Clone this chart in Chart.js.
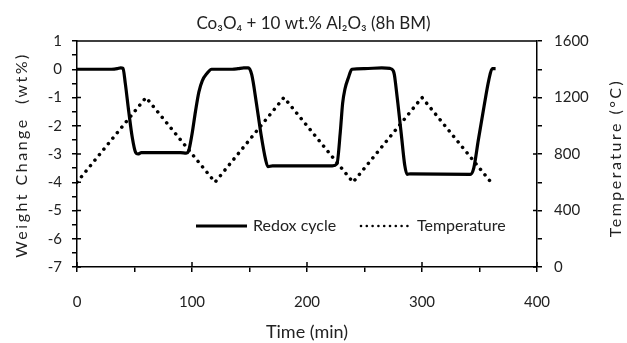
<!DOCTYPE html>
<html>
<head>
<meta charset="utf-8">
<script src="https://cdn.jsdelivr.net/npm/chart.js@4"></script>
<style>
  body { margin: 0; background: #fff; }
  #wrap { width: 627px; height: 343px; }
</style>
</head>
<body>
<div id="wrap"><canvas id="redoxChart" width="627" height="343"></canvas></div>
<script>
// weight change (wt%) vs time (min)
const weightTime = [0, 30, 35, 38, 40, 42, 45, 48, 51, 53, 56, 70, 90, 95, 97, 100, 103, 106, 109, 113, 117, 120, 135, 140, 145, 149, 152, 156, 160, 164, 166, 170, 190, 222, 226, 229, 231, 233, 236, 239, 250, 265, 272, 275, 276, 277, 279, 282, 285, 287, 290, 342, 345, 349, 354, 358, 361, 364];
const weightVals = [0, 0, 0.02, 0.05, 0.03, -0.5, -1.5, -2.4, -2.95, -3.0, -2.95, -2.95, -2.95, -2.97, -2.9, -2.3, -1.5, -0.8, -0.4, -0.15, 0, 0, 0, 0.02, 0.05, 0.05, -0.2, -1.2, -2.3, -3.2, -3.45, -3.42, -3.42, -3.42, -3.35, -2.2, -1.2, -0.7, -0.3, 0, 0.02, 0.05, 0.03, -0.05, -0.2, -0.5, -1.2, -2.3, -3.4, -3.72, -3.7, -3.72, -3.5, -2.5, -1.3, -0.4, 0.02, 0.02];

// temperature (°C) vs time (min)
const tempTime = [0, 60, 120, 180, 240, 300, 360];
const tempVals = [600, 1200, 600, 1200, 600, 1200, 600];

const xTicks = [0, 100, 200, 300, 400];
const leftTicks = [-7, -6, -5, -4, -3, -2, -1, 0, 1];
const rightTicks = [0, 400, 800, 1200, 1600];

const FONT = "Lato, 'Open Sans', sans-serif";
const TXT = "#222";

const toXY = (xs, ys) => xs.map((x, i) => ({ x: x, y: ys[i] }));

// extra drawing: top border, inner half of major ticks, legend, rotated axis titles
const decor = {
  id: "decor",
  afterDraw(chart) {
    const ctx = chart.ctx;
    const a = chart.chartArea;
    const sx = chart.scales.x, sy = chart.scales.y, sy1 = chart.scales.y1;
    ctx.save();
    ctx.strokeStyle = "#000";
    ctx.lineWidth = 1.5;
    ctx.beginPath();
    ctx.moveTo(a.left, a.top);
    ctx.lineTo(a.right, a.top);
    xTicks.forEach(v => {
      const p = sx.getPixelForValue(v);
      ctx.moveTo(p, a.bottom);
      ctx.lineTo(p, a.bottom - 5);
    });
    leftTicks.forEach(v => {
      const p = sy.getPixelForValue(v);
      ctx.moveTo(a.left, p);
      ctx.lineTo(a.left + 4, p);
    });
    rightTicks.forEach(v => {
      const p = sy1.getPixelForValue(v);
      ctx.moveTo(a.right, p);
      ctx.lineTo(a.right - 4, p);
    });
    ctx.stroke();

    // legend
    const ly = 226;
    ctx.lineWidth = 3;
    ctx.beginPath();
    ctx.moveTo(196, ly);
    ctx.lineTo(247, ly);
    ctx.stroke();
    ctx.fillStyle = "#000";
    for (let x = 361; x <= 408; x += 5.8) {
      ctx.beginPath();
      ctx.arc(x, ly, 1.3, 0, Math.PI * 2);
      ctx.fill();
    }
    ctx.fillStyle = TXT;
    ctx.font = "16px " + FONT;
    ctx.textBaseline = "middle";
    ctx.textAlign = "left";
    ctx.fillText(chart.data.datasets[0].label, 253, ly);
    ctx.fillText(chart.data.datasets[1].label, 417, ly);

    // axis titles
    ctx.font = "16px " + FONT;
    ctx.letterSpacing = "2.5px";
    ctx.textAlign = "center";
    ctx.save();
    ctx.translate(22, 155);
    ctx.rotate(-Math.PI / 2);
    ctx.fillText("Weight Change  (wt%)", 0, 0);
    ctx.restore();
    ctx.save();
    ctx.translate(616, 158);
    ctx.rotate(-Math.PI / 2);
    ctx.fillText("Temperature (°C)", 0, 0);
    ctx.restore();
    ctx.restore();
  }
};

const axisGrid = { drawOnChartArea: false, tickLength: 5, color: "#000", lineWidth: 1.5 };
const axisBorder = { color: "#000", width: 1.5 };

new Chart(document.getElementById("redoxChart"), {
  type: "line",
  data: {
    datasets: [
      {
        label: "Redox cycle",
        data: toXY(weightTime, weightVals),
        yAxisID: "y",
        borderColor: "#000",
        borderWidth: 3.2,
        pointRadius: 0,
        cubicInterpolationMode: "monotone",
        fill: false
      },
      {
        label: "Temperature",
        data: toXY(tempTime, tempVals),
        yAxisID: "y1",
        borderColor: "#000",
        borderWidth: 3.5,
        borderDash: [0.1, 7],
        borderCapStyle: "round",
        pointRadius: 0,
        tension: 0,
        fill: false
      }
    ]
  },
  options: {
    responsive: false,
    animation: false,
    layout: { padding: 0 },
    plugins: {
      legend: { display: false },
      tooltip: { enabled: false },
      title: {
        display: true,
        text: "Co₃O₄ + 10 wt.% Al₂O₃ (8h BM)",
        color: TXT,
        font: { family: FONT, size: 17, weight: "normal", lineHeight: 1.2 },
        padding: { top: 13, bottom: 7.6 }
      }
    },
    scales: {
      x: {
        type: "linear",
        min: 0,
        max: 400,
        afterFit: s => { s.height = 76; },
        ticks: {
          stepSize: 50,
          maxRotation: 0,
          autoSkip: false,
          padding: 21,
          color: TXT,
          font: { family: FONT, size: 15 },
          callback: v => (xTicks.includes(v) ? v : "")
        },
        grid: axisGrid,
        border: axisBorder,
        title: {
          display: true,
          text: "Time (min)",
          color: TXT,
          font: { family: FONT, size: 18 },
          padding: { top: 0, bottom: 0 }
        }
      },
      y: {
        position: "left",
        min: -7,
        max: 1,
        afterFit: s => { s.width = 77; },
        ticks: {
          stepSize: 0.5,
          autoSkip: false,
          padding: 10,
          color: TXT,
          font: { family: FONT, size: 15 },
          callback: v => (leftTicks.includes(v) ? v : "")
        },
        grid: axisGrid,
        border: axisBorder
      },
      y1: {
        position: "right",
        min: 0,
        max: 1600,
        afterFit: s => { s.width = 90; },
        ticks: {
          stepSize: 200,
          autoSkip: false,
          padding: 12,
          color: TXT,
          font: { family: FONT, size: 15 },
          callback: v => (rightTicks.includes(v) ? v : "")
        },
        grid: axisGrid,
        border: axisBorder
      }
    }
  },
  plugins: [decor]
});
</script>
</body>
</html>
